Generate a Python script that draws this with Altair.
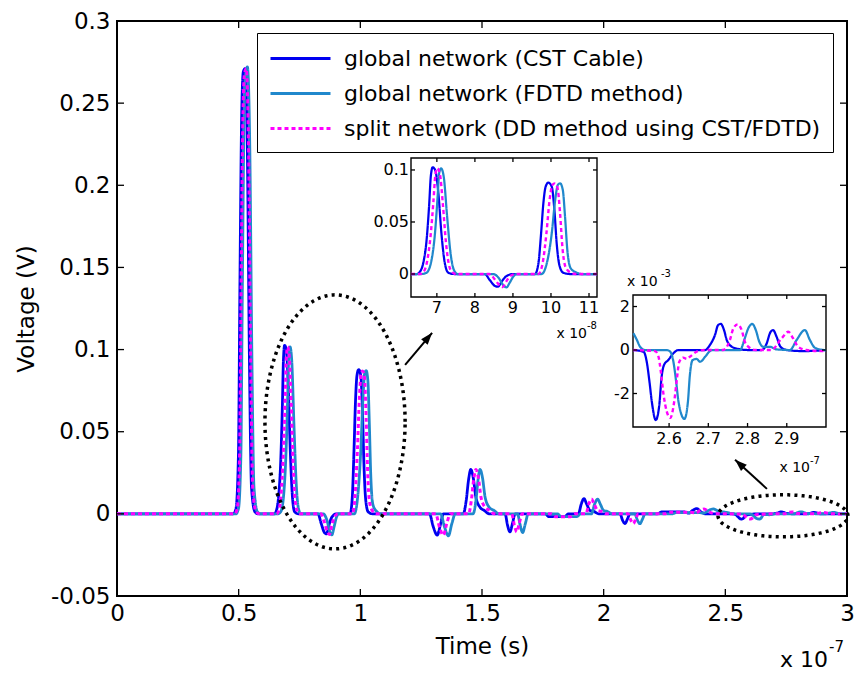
import math

import numpy as np
import pandas as pd
import altair as alt

FONT = "DejaVu Sans"

series_names = [
    "global network (CST Cable)",
    "global network (FDTD method)",
    "split network (DD method using CST/FDTD)",
]
series_colors = ["#0000f0", "#2088cc", "#ff00ff"]
series_dashes = [[1, 0], [1, 0], [4, 3]]

# (time in ns, voltage in V)
cst_points = [
    (0, 0), (47.8, 0), (48.9, 0.0032), (49.9, 0.0357), (50.5, 0.137), (51.2, 0.239),
    (51.9, 0.269), (52.6, 0.271), (53.6, 0.218), (54.4, 0.097), (55.3, 0.0154),
    (56.7, 0.0012), (58.0, 0), (60.0, 0),
    (64.7, 0), (65.5, 0.002), (66.4, 0.0103), (67.3, 0.0327), (68.0, 0.068),
    (68.4, 0.0936), (68.9, 0.1026), (69.6, 0.0995), (70.4, 0.0776), (71.2, 0.039),
    (72.1, 0.0103), (73.0, 0.0013), (74.5, 0),
    (82.6, 0), (83.9, -0.0058), (85.3, -0.0115), (86.1, -0.0122), (87.0, -0.0074),
    (88.3, -0.002), (90.1, 0),
    (95.8, 0), (96.7, 0.0103), (97.4, 0.039), (98.0, 0.068), (98.6, 0.084),
    (99.3, 0.0878), (100.2, 0.084), (100.9, 0.0616), (101.5, 0.0295), (102.2, 0.0087),
    (103.2, 0.0013), (105.0, 0), (118.0, 0),
    (128.4, 0), (130.0, -0.008), (131.6, -0.013), (133.0, -0.006), (134.1, 0),
    (142.3, 0), (143.5, 0.008), (144.5, 0.021), (145.4, 0.027), (146.4, 0.022),
    (147.5, 0.010), (149.2, 0.004), (151.0, 0.002), (153.0, 0),
    (159.5, 0), (160.5, -0.007), (161.5, -0.011), (162.5, -0.006), (163.6, 0),
    (176.0, 0), (177.5, -0.0017), (184.0, -0.0017), (185.5, 0),
    (189.6, 0), (190.8, 0.006), (191.9, 0.0093), (193.0, 0.006), (194.4, 0.002),
    (196.0, 0.0015), (198.0, 0),
    (206.7, 0), (207.8, -0.004), (208.8, -0.0059), (209.8, -0.003), (210.8, 0),
    (222.0, 0), (224.0, 0.0012), (233.0, 0.0012), (235.0, 0.0004), (236.5, 0.002),
    (238.3, 0.0032), (240.0, 0.0012), (242.0, 0),
    (250.9, 0), (253.5, -0.00008), (254.3, -0.00054), (255.0, -0.00146),
    (255.6, -0.00238), (256.6, -0.00322), (257.5, -0.00253), (258.1, -0.00123),
    (258.7, -0.00069), (259.8, -0.00046), (261.1, -0.00015), (262.4, 0),
    (269.2, 0), (270.4, 0.00023), (271.7, 0.00069), (272.5, 0.00115), (273.2, 0.0012),
    (274.0, 0.00092), (274.7, 0.00046), (276.0, 0.00015), (277.6, 0.00005), (280.2, 0),
    (283.6, 0), (284.9, 0.00031), (285.7, 0.00077), (286.5, 0.00092), (287.4, 0.00061),
    (288.4, 0.00015), (290.0, 0), (294.2, -0.00005), (300.0, 0),
]

fdtd_points = [
    (0, 0), (48.8, 0), (49.9, 0.003), (50.9, 0.035), (51.5, 0.135), (52.2, 0.238),
    (52.9, 0.268), (53.6, 0.272), (54.6, 0.22), (55.4, 0.1), (56.3, 0.016),
    (57.7, 0.0012), (59.0, 0), (60.0, 0),
    (66.0, 0), (67.3, 0.0013), (68.6, 0.0135), (69.5, 0.039), (70.2, 0.0744),
    (70.6, 0.0968), (71.1, 0.1016), (71.8, 0.0936), (72.7, 0.0551), (73.6, 0.0199),
    (74.5, 0.0038), (75.5, 0),
    (84.8, 0), (86.3, -0.004), (87.4, -0.0105), (88.3, -0.0128), (89.2, -0.008),
    (90.2, -0.002), (91.0, 0),
    (97.5, 0), (98.9, 0.0103), (100.2, 0.039), (101.1, 0.071), (101.8, 0.0856),
    (102.4, 0.0872), (103.1, 0.081), (103.7, 0.055), (104.3, 0.023), (105.2, 0.0054),
    (106.8, 0.0013), (108.0, 0), (118.0, 0),
    (133.0, 0), (134.6, -0.008), (136.2, -0.0134), (137.6, -0.006), (139.0, 0),
    (146.3, 0), (147.5, 0.008), (148.4, 0.021), (149.2, 0.027), (150.2, 0.022),
    (151.3, 0.010), (153.0, 0.004), (155.0, 0.002), (157.0, 0),
    (164.6, 0), (165.7, -0.007), (166.7, -0.0114), (167.8, -0.006), (169.0, 0),
    (181.0, 0), (182.5, -0.0017), (189.0, -0.0017), (190.5, 0),
    (195.0, 0), (196.3, 0.006), (197.5, 0.009), (198.6, 0.006), (200.0, 0.002),
    (201.5, 0.0015), (203.5, 0),
    (212.8, 0), (213.9, -0.004), (214.9, -0.006), (216.0, -0.003), (217.0, 0),
    (228.0, 0), (230.0, 0.0008), (239.0, 0.0008), (241.0, 0.0004), (243.0, 0.002),
    (245.0, 0.003), (247.0, 0.0018), (250.9, 0.00077), (251.8, 0.00046),
    (252.6, 0.00015), (253.9, 0),
    (259.4, 0), (260.3, -0.00008), (261.1, -0.00054), (261.8, -0.00146),
    (262.4, -0.00238), (263.9, -0.00317), (264.8, -0.00238), (265.3, -0.00115),
    (266.0, -0.00046), (267.0, -0.00041), (267.9, -0.00054), (269.2, -0.00031),
    (270.4, -0.00005), (271.0, 0),
    (278.1, 0), (279.3, 0.00054), (280.2, 0.001), (281.2, 0.0012), (282.1, 0.00092),
    (283.0, 0.00038), (284.0, 0.00015), (285.7, 0.00015), (287.4, 0.00003), (290.8, 0),
    (292.5, 0.00046), (294.6, 0.00092), (295.9, 0.00046), (297.2, 0.0001), (299.7, 0),
    (300.0, 0),
]

dd_points = [
    (0, 0), (48.3, 0), (49.4, 0.003), (50.4, 0.036), (51.0, 0.136), (51.7, 0.238),
    (52.4, 0.268), (53.1, 0.271), (54.1, 0.219), (54.9, 0.098), (55.8, 0.015),
    (57.2, 0.0012), (58.5, 0), (60.0, 0),
    (65.5, 0), (66.5, 0.002), (67.4, 0.0115), (68.3, 0.035), (69.1, 0.07),
    (69.6, 0.095), (70.1, 0.1016), (70.8, 0.096), (71.6, 0.066), (72.4, 0.03),
    (73.3, 0.007), (74.2, 0.0013), (75.0, 0),
    (83.8, 0), (85.2, -0.005), (86.5, -0.011), (87.3, -0.0125), (88.2, -0.0075),
    (89.3, -0.002), (90.8, 0),
    (96.7, 0), (97.8, 0.0103), (98.8, 0.039), (99.6, 0.07), (100.3, 0.085),
    (100.9, 0.087), (101.7, 0.083), (102.4, 0.058), (103.0, 0.026), (103.8, 0.007),
    (105.2, 0.0013), (106.5, 0), (118.0, 0),
    (131.0, 0), (132.5, -0.008), (134.1, -0.013), (135.5, -0.006), (137.0, 0),
    (144.5, 0), (145.6, 0.008), (146.6, 0.021), (147.5, 0.027), (148.5, 0.022),
    (149.6, 0.010), (151.3, 0.004), (153.2, 0.002), (155.0, 0),
    (162.2, 0), (163.3, -0.007), (164.3, -0.011), (165.3, -0.006), (166.5, 0),
    (178.5, 0), (180.0, -0.0017), (186.5, -0.0017), (188.0, 0),
    (192.7, 0), (193.9, 0.006), (195.0, 0.009), (196.1, 0.006), (197.5, 0.002),
    (199.0, 0.0015), (201.0, 0),
    (210.0, 0), (211.2, -0.004), (212.2, -0.006), (213.2, -0.003), (214.2, 0),
    (225.0, 0), (227.0, 0.001), (236.0, 0.001), (238.0, 0.0004), (239.5, 0.002),
    (241.3, 0.003), (243.0, 0.0015), (246.0, 0), (250.0, 0),
    (256.4, -0.00005), (257.3, -0.00031), (257.9, -0.001), (258.6, -0.00207),
    (260.3, -0.00312), (261.3, -0.00238), (262.0, -0.00131), (262.6, -0.00054),
    (263.6, -0.00035), (264.5, -0.00041), (265.3, -0.00031), (267.0, -0.00008),
    (269.0, 0),
    (273.8, 0), (275.5, 0.00046), (276.4, 0.001), (277.5, 0.00118), (278.5, 0.00092),
    (279.3, 0.00038), (280.2, 0.00015), (282.0, 0),
    (286.0, 0), (288.7, 0.00054), (290.4, 0.00084), (291.6, 0.00054), (292.9, 0.00015),
    (295.0, 0), (299.0, -0.00005), (300.0, 0),
]

# axis ticks (time in ns, voltage in V)
main_t_ticks = [0, 50, 100, 150, 200, 250, 300]
main_v_ticks = [-0.05, 0, 0.05, 0.1, 0.15, 0.2, 0.25, 0.3]
zoom1_t_ticks = [70, 80, 90, 100, 110]
zoom1_v_ticks = [0, 0.05, 0.1]
zoom2_t_ticks = [260, 270, 280, 290]
zoom2_v_ticks = [-0.002, 0, 0.002]

frames = []
for name, pts in zip(series_names, [cst_points, fdtd_points, dd_points]):
    f = pd.DataFrame(pts, columns=["t", "v"])
    f["series"] = name
    f["i"] = range(len(f))
    frames.append(f)
curves = pd.concat(frames, ignore_index=True)

# ---------- scales ----------
W, H = 730, 575
MAIN_T = alt.Scale(domain=[0, 300], nice=False, zero=False)
MAIN_V = alt.Scale(domain=[-0.05, 0.3], nice=False, zero=False)
Z1_DOM_T, Z1_DOM_V = [63.2, 112.1], [-0.0221, 0.1115]
Z2_DOM_T, Z2_DOM_V = [250.8, 300.0], [-0.00354, 0.00253]
Z1_T = alt.Scale(domain=Z1_DOM_T, range=[294, 480], nice=False, zero=False, clamp=True)
Z1_V = alt.Scale(domain=Z1_DOM_V, range=[276, 137], nice=False, zero=False, clamp=True)
Z2_T = alt.Scale(domain=Z2_DOM_T, range=[516, 709], nice=False, zero=False, clamp=True)
Z2_V = alt.Scale(domain=Z2_DOM_V, range=[406, 274], nice=False, zero=False, clamp=True)

X_AXIS = alt.Axis(
    values=main_t_ticks, labelExpr="format(datum.value / 100, '~g')",
    title="Time (s)", labelFlush=False, labelPadding=6, titlePadding=10,
)
Y_AXIS = alt.Axis(
    values=main_v_ticks,
    labelExpr="datum.value < 0 ? '-' + format(-datum.value, '~g') : format(datum.value, '~g')",
    title="Voltage (V)", labelFlush=False, labelPadding=7, titlePadding=12,
)


def mx(field):
    return alt.X(field, type="quantitative", scale=MAIN_T, axis=X_AXIS)


def my(field):
    return alt.Y(field, type="quantitative", scale=MAIN_V, axis=Y_AXIS)


def make_xy(tsc, vsc):
    def fx(field):
        return alt.X(field, type="quantitative", scale=tsc, axis=None)

    def fy(field):
        return alt.Y(field, type="quantitative", scale=vsc, axis=None)
    return fx, fy


legend = alt.Legend(orient="none", legendX=140, legendY=12)
color_enc = alt.Color(
    "series:N", title=None, legend=legend,
    scale=alt.Scale(domain=series_names, range=series_colors),
)
dash_enc = alt.StrokeDash(
    "series:N", title=None, legend=legend,
    scale=alt.Scale(domain=series_names, range=series_dashes),
)
widths = [2.8, 2.8, 3.0]


def curve_layers(data, fx, fy, scale_w=1.0):
    out = []
    for name, w in zip(series_names, widths):
        sub = data[data["series"] == name]
        out.append(
            alt.Chart(sub).mark_line(
                strokeWidth=w * scale_w, strokeCap="butt", interpolate="monotone"
            ).encode(
                x=fx("t"), y=fy("v"), color=color_enc, strokeDash=dash_enc, order="i:Q"
            )
        )
    return out


def tick_layers(t_ticks, v_ticks, t_dom, v_dom, fx, fy, length):
    size = (2 * length) ** 2
    specs = [
        (pd.DataFrame({"t": t_ticks, "v": v_dom[0]}), "M0,0L0,-1"),
        (pd.DataFrame({"t": t_ticks, "v": v_dom[1]}), "M0,0L0,1"),
        (pd.DataFrame({"t": t_dom[0], "v": v_ticks}), "M0,0L1,0"),
        (pd.DataFrame({"t": t_dom[1], "v": v_ticks}), "M0,0L-1,0"),
    ]
    return [
        alt.Chart(d).mark_point(
            shape=s, size=size, filled=False, color="black", strokeWidth=1.3, opacity=1
        ).encode(x=fx("t"), y=fy("v"))
        for d, s in specs
    ]


def text_layer(rows, fx, fy, **kw):
    d = pd.DataFrame(rows, columns=["t", "v", "label"])
    return alt.Chart(d).mark_text(font=FONT, color="black", **kw).encode(
        x=fx("t"), y=fy("v"), text="label:N"
    )


# ---------- main panel ----------
main_layers = curve_layers(curves, mx, my)

# dotted ellipses marking the zoomed regions: (centre t, centre v, radius t, radius v)
ellipse_specs = [(89.6, 0.056, 28.8, 0.0773), (273.7, -0.0012, 26.7, 0.0128)]
ang = np.linspace(0, 2 * np.pi, 241)
ell_rows = []
for k, (ct, cv, rt, rv) in enumerate(ellipse_specs):
    for j, a in enumerate(ang):
        ell_rows.append({"t": ct + rt * np.cos(a), "v": cv + rv * np.sin(a), "e": k, "j": j})
ell = pd.DataFrame(ell_rows)
main_layers.append(
    alt.Chart(ell).mark_line(
        color="black", strokeWidth=3.5, strokeDash=[3, 4.2], strokeCap="butt"
    ).encode(x=mx("t"), y=my("v"), detail="e:N", order="j:Q")
)

# arrows pointing from each ellipse to its zoom panel: (tail t, tail v, tip t, tip v)
arrow_specs = [(118.4, 0.0907, 129.5, 0.1102), (267.1, 0.0152, 254.0, 0.0329)]
arr = pd.DataFrame(arrow_specs, columns=["t0", "v0", "t1", "v1"])
px_t, px_v = W / 300.0, H / 0.35
arr["angle"] = [
    (math.degrees(math.atan2((r.t1 - r.t0) * px_t, (r.v1 - r.v0) * px_v)) + 360) % 360
    for r in arr.itertuples()
]
main_layers.append(
    alt.Chart(arr).mark_rule(color="black", strokeWidth=2).encode(
        x=mx("t0"), x2="t1", y=my("v0"), y2="v1"
    )
)
main_layers.append(
    alt.Chart(arr).mark_point(
        shape="M0,0L0.75,2.1L-0.75,2.1Z", size=130, filled=True, color="black", opacity=1
    ).encode(x=mx("t1"), y=my("v1"), angle=alt.Angle("angle:Q", scale=None))
)

main_layers += tick_layers(main_t_ticks, main_v_ticks, [0, 300], [-0.05, 0.3], mx, my, 7)
main_layers.append(text_layer([(300, -0.05, "x 10")], mx, my, fontSize=22,
                              align="right", baseline="middle", dx=-19, dy=64))
main_layers.append(text_layer([(300, -0.05, "-7")], mx, my, fontSize=15,
                              align="left", baseline="middle", dx=-18, dy=51))
main = alt.layer(*main_layers)

# ---------- zoom panel 1 ----------
z1x, z1y = make_xy(Z1_T, Z1_V)
box1 = pd.DataFrame({"t": [Z1_DOM_T[0]], "t2": [Z1_DOM_T[1]],
                     "v": [Z1_DOM_V[0]], "v2": [Z1_DOM_V[1]]})
z1_layers = [
    alt.Chart(box1).mark_rect(fill="white", stroke="black", strokeWidth=1.4).encode(
        x=z1x("t"), x2="t2", y=z1y("v"), y2="v2"
    )
]
z1_layers += curve_layers(curves[(curves.t >= 60) & (curves.t <= 118)], z1x, z1y, 0.8)
z1_layers += tick_layers(zoom1_t_ticks, zoom1_v_ticks, Z1_DOM_T, Z1_DOM_V, z1x, z1y, 4)
z1_layers.append(text_layer([(t, Z1_DOM_V[0], f"{t / 10:g}") for t in zoom1_t_ticks],
                            z1x, z1y, fontSize=16, align="center", baseline="middle", dy=11))
z1_layers.append(text_layer([(Z1_DOM_T[0], v, f"{v:g}") for v in zoom1_v_ticks],
                            z1x, z1y, fontSize=16, align="right", baseline="middle", dx=-2))
z1_layers.append(text_layer([(Z1_DOM_T[1], Z1_DOM_V[0], "x 10")], z1x, z1y, fontSize=14,
                            align="right", baseline="middle", dx=-10, dy=37))
z1_layers.append(text_layer([(Z1_DOM_T[1], Z1_DOM_V[0], "-8")], z1x, z1y, fontSize=10,
                            align="right", baseline="middle", dx=0, dy=29))
zoom1 = alt.layer(*z1_layers)

# ---------- zoom panel 2 ----------
z2x, z2y = make_xy(Z2_T, Z2_V)
box2 = pd.DataFrame({"t": [Z2_DOM_T[0]], "t2": [Z2_DOM_T[1]],
                     "v": [Z2_DOM_V[0]], "v2": [Z2_DOM_V[1]]})
z2_layers = [
    alt.Chart(box2).mark_rect(fill="white", stroke="black", strokeWidth=1.4).encode(
        x=z2x("t"), x2="t2", y=z2y("v"), y2="v2"
    )
]
z2_layers += curve_layers(curves[(curves.t >= 250) & (curves.t <= 300)], z2x, z2y, 0.8)
z2_layers += tick_layers(zoom2_t_ticks, zoom2_v_ticks, Z2_DOM_T, Z2_DOM_V, z2x, z2y, 4)
z2_layers.append(text_layer([(t, Z2_DOM_V[0], f"{t / 100:g}") for t in zoom2_t_ticks],
                            z2x, z2y, fontSize=16, align="center", baseline="middle", dy=12))
z2_layers.append(text_layer([(Z2_DOM_T[0], v, f"{v * 1000:g}") for v in zoom2_v_ticks],
                            z2x, z2y, fontSize=16, align="right", baseline="middle", dx=-3))
z2_layers.append(text_layer([(Z2_DOM_T[1], Z2_DOM_V[0], "x 10")], z2x, z2y, fontSize=14,
                            align="right", baseline="middle", dx=-16, dy=41))
z2_layers.append(text_layer([(Z2_DOM_T[1], Z2_DOM_V[0], "-7")], z2x, z2y, fontSize=10,
                            align="left", baseline="middle", dx=-16, dy=34))
z2_layers.append(text_layer([(Z2_DOM_T[0], Z2_DOM_V[1], "x 10")], z2x, z2y, fontSize=14,
                            align="left", baseline="middle", dx=-6, dy=-13))
z2_layers.append(text_layer([(Z2_DOM_T[0], Z2_DOM_V[1], "-3")], z2x, z2y, fontSize=10,
                            align="left", baseline="middle", dx=28, dy=-21))
zoom2 = alt.layer(*z2_layers)

chart = (
    alt.layer(main, zoom1, zoom2)
    .resolve_scale(x="independent", y="independent")
    .properties(
        width=W,
        height=H,
        padding={"left": 117, "top": 21, "right": 10, "bottom": 79},
        autosize=alt.AutoSizeParams(type="none"),
        background="white",
    )
    .configure(font=FONT)
    .configure_view(stroke="black", strokeWidth=2)
    .configure_axis(
        labelFont=FONT, labelFontSize=23, labelColor="black",
        titleFont=FONT, titleFontSize=23, titleFontWeight="normal", titleColor="black",
        ticks=False, domain=False, grid=False,
    )
    .configure_legend(
        labelFont=FONT, labelFontSize=22, labelColor="black", labelLimit=700,
        # a 60 px line sample drawn in a 24 px symbol slot
        symbolType="M-1,0L4,0", symbolSize=576, symbolStrokeWidth=3,
        rowPadding=10, labelOffset=48, padding=12,
        fillColor="white", strokeColor="black",
    )
)

chart.save("out.html", embed_options={"renderer": "svg", "actions": False})
